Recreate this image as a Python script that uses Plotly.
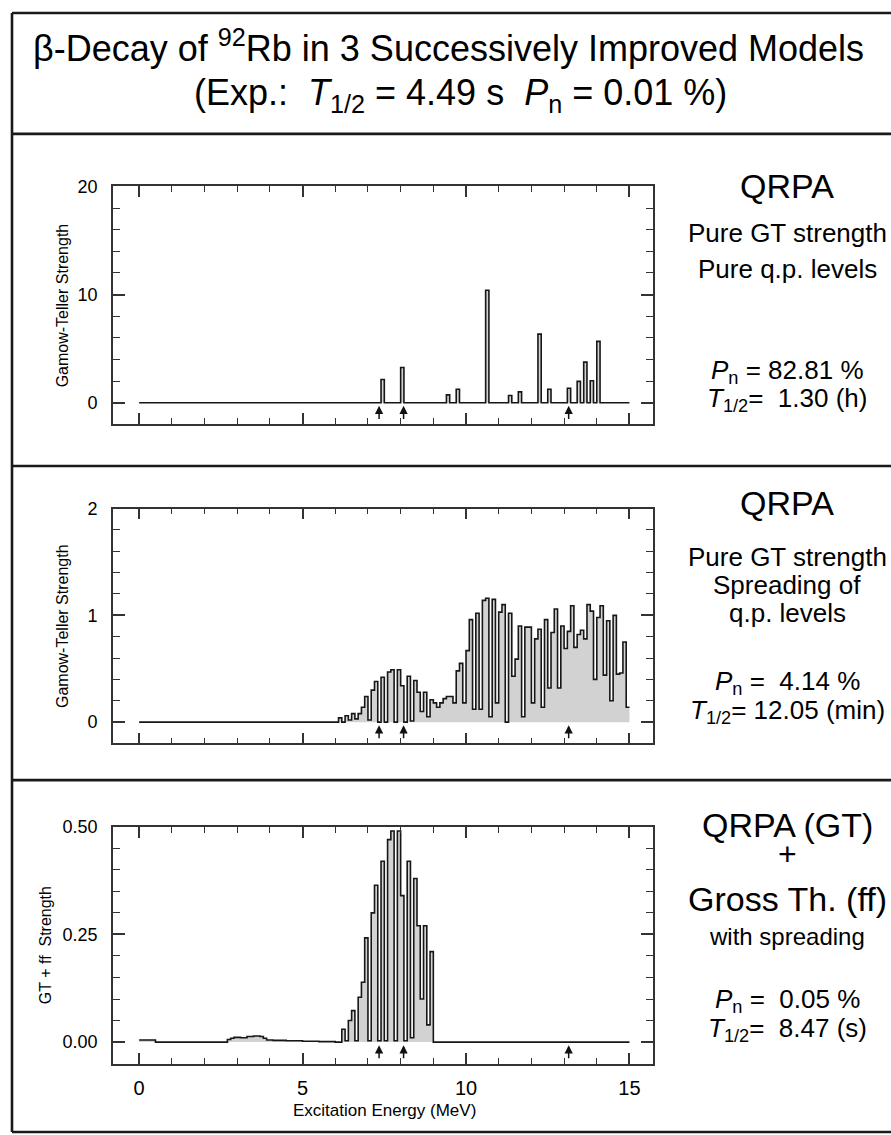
import numpy as np
import plotly.graph_objects as go

W, H = 891, 1135
FONT = "Liberation Sans, Arial, Helvetica, sans-serif"

# ---------------- data ----------------
BIN = 0.1          # MeV, histogram bin width
E_MAX = 15.0       # MeV, end of the spectra

# Panel 1: QRPA, pure GT strength, pure q.p. levels (bin left edge, strength)
p1_energy = [7.4, 8.0, 9.4, 9.7, 10.6, 11.3, 11.6, 12.2, 12.5, 13.1, 13.4, 13.6, 13.8, 14.0]
p1_strength = [2.15, 3.25, 0.72, 1.24, 10.4, 0.66, 1.0, 6.34, 1.24, 1.33, 1.97, 3.75, 2.03, 5.67]

# Panel 2: QRPA with spreading of q.p. levels, 0.1-MeV bins starting at 6.0 MeV
p2_start = 6.0
p2_strength = [
    0.00, 0.04, 0.00, 0.06, 0.02, 0.08, 0.03, 0.08, 0.14, 0.24,   # 6.0-6.9
    0.02, 0.30, 0.38, 0.00, 0.42, 0.00, 0.47, 0.49, 0.00, 0.49,   # 7.0-7.9
    0.34, 0.00, 0.43, 0.01, 0.39, 0.28, 0.10, 0.28, 0.05, 0.21,   # 8.0-8.9
    0.18, 0.14, 0.18, 0.22, 0.24, 0.24, 0.18, 0.48, 0.55, 0.18,   # 9.0-9.9
    0.67, 0.96, 0.12, 1.02, 0.12, 1.14, 1.16, 0.05, 1.15, 0.18,   # 10.0-10.9
    1.03, 1.10, 0.00, 1.02, 0.43, 0.59, 0.90, 0.05, 0.89, 0.89,   # 11.0-11.9
    0.18, 0.78, 0.87, 0.14, 0.96, 0.32, 0.84, 1.06, 0.32, 0.90,   # 12.0-12.9
    0.69, 0.85, 1.09, 0.70, 0.82, 0.86, 0.78, 1.10, 1.04, 0.40,   # 13.0-13.9
    0.98, 1.09, 0.44, 0.95, 0.20, 1.00, 0.45, 0.46, 0.75, 0.14,   # 14.0-14.9
]

# Panel 3: GT + ff with spreading
p3_ff_edges = [0.0, 0.5, 2.7, 2.8, 2.9, 3.1, 3.3, 3.5, 3.7, 3.8, 3.9, 4.1, 4.5, 5.0, 5.5, 6.0]
p3_ff_strength = [0.005, 0.0, 0.006, 0.009, 0.011, 0.010, 0.013, 0.014, 0.013, 0.009,
                  0.005, 0.004, 0.003, 0.002, 0.001]
p3_gt_start = 6.0
p3_gt_strength = [
    0.000, 0.000, 0.030, 0.003, 0.050, 0.073, 0.003, 0.104, 0.139, 0.242,  # 6.0-6.9
    0.003, 0.300, 0.364, 0.003, 0.420, 0.003, 0.470, 0.490, 0.003, 0.490,  # 7.0-7.9
    0.340, 0.003, 0.420, 0.010, 0.380, 0.270, 0.100, 0.270, 0.040, 0.210,  # 8.0-8.9
]
p3_tail_strength = 0.0   # 9.0 - 15.0 MeV

arrow_energy = [7.34, 8.09, 13.14]

y_titles = ["Gamow-Teller Strength", "Gamow-Teller Strength", "GT + ff\u00a0\u00a0Strength"]
y_ranges = [[-2, 20], [-0.2, 2], [-0.05, 0.5]]
y_dticks = [10, 1, 0.25]
y_minor = [2, 0.2, 0.05]
y_formats = ["d", "d", ".2f"]

side_texts = [
    [("QRPA", 34), ("Pure GT strength", 26), ("Pure q.p. levels", 26),
     ("<i>P</i><sub>n</sub> = 82.81 %", 26), ("<i>T</i><sub>1/2</sub>=\u00a0\u00a01.30 (h)", 26)],
    [("QRPA", 34), ("Pure GT strength", 26), ("Spreading of", 26), ("q.p. levels", 26),
     ("<i>P</i><sub>n</sub> =\u00a0\u00a04.14 %", 26), ("<i>T</i><sub>1/2</sub>= 12.05 (min)", 26)],
    [("QRPA (GT)", 34), ("+", 32), ("Gross Th. (ff)", 34), ("with spreading", 24),
     ("<i>P</i><sub>n</sub> =\u00a0\u00a00.05 %", 26), ("<i>T</i><sub>1/2</sub>=\u00a0\u00a08.47 (s)", 26)],
]
side_text_y = [
    [178, 225, 261, 365, 393],
    [497, 552, 580, 608, 678, 708],
    [822, 851, 897, 935, 999, 1029],
]

# ---------------- layout geometry (pixels) ----------------
PX_L, PX_R = 113, 653
panel_px = [(178, 418), (503, 740), (824, 1063)]


def px_x(px):
    return px / W


def px_y(py):
    return 1 - py / H


def step_xy(edges, vals):
    x = list(edges[:-1]) + [edges[-1]]
    y = list(vals) + [vals[-1]]
    return x, y


# panel 1 histogram on a 0.1-MeV grid
n1 = int(round(E_MAX / BIN))
p1_edges = np.round(np.arange(n1 + 1) * BIN, 2)
p1_vals = np.zeros(n1)
for e, s in zip(p1_energy, p1_strength):
    p1_vals[int(round(e / BIN))] = s

# panel 2
p2_edges = np.round(np.concatenate([[0.0], p2_start + BIN * np.arange(len(p2_strength) + 1)]), 2)
p2_vals = [0.0] + p2_strength

# panel 3
gt_edges = np.round(p3_gt_start + BIN * np.arange(len(p3_gt_strength) + 1), 2)
p3_edges = list(p3_ff_edges[:-1]) + list(gt_edges) + [E_MAX]
p3_vals = list(p3_ff_strength) + list(p3_gt_strength) + [p3_tail_strength]

spectra = [(p1_edges, p1_vals), (p2_edges, p2_vals), (p3_edges, p3_vals)]

fig = go.Figure()
LINE_C = "#161616"
AX_C = "#333333"
FILL_C = "#d2d2d2"

for i, (edges, vals) in enumerate(spectra, start=1):
    x, y = step_xy(edges, vals)
    fig.add_trace(go.Scatter(
        x=x, y=y, mode="lines", line=dict(shape="hv", color=LINE_C, width=1.6),
        fill="tozeroy", fillcolor=FILL_C, hoverinfo="skip", showlegend=False,
        xaxis=f"x{i}", yaxis=f"y{i}"))

layout = dict(
    width=W, height=H, margin=dict(l=0, r=0, t=0, b=0),
    paper_bgcolor="white", plot_bgcolor="white", showlegend=False,
    font=dict(family=FONT, color="black"),
)

annotations = []
shapes = []

for i in range(1, 4):
    top, bot = panel_px[i - 1]
    layout[f"xaxis{i}"] = dict(
        domain=[px_x(PX_L), px_x(PX_R)], range=[-0.8, 15.72], anchor=f"y{i}",
        showline=True, linecolor=AX_C, linewidth=1.7, mirror="ticks",
        ticks="inside", ticklen=11, tickwidth=1.5, tickcolor=AX_C,
        tick0=0, dtick=5, showgrid=False, zeroline=False,
        minor=dict(ticks="inside", ticklen=6, tickwidth=1.3, tickcolor=AX_C, dtick=1, showgrid=False),
        showticklabels=(i == 3), tickfont=dict(size=20, family=FONT, color="black"),
        ticklabelstandoff=6,
    )
    yr = y_ranges[i - 1]
    layout[f"yaxis{i}"] = dict(
        domain=[px_y(bot), px_y(top)], range=yr, anchor=f"x{i}",
        showline=True, linecolor=AX_C, linewidth=1.7, mirror="ticks",
        ticks="inside", ticklen=12, tickwidth=1.5, tickcolor=AX_C,
        tick0=0, dtick=y_dticks[i - 1], tickformat=y_formats[i - 1],
        showgrid=False, zeroline=False,
        minor=dict(ticks="inside", ticklen=7, tickwidth=1.3, tickcolor=AX_C,
                   tick0=0, dtick=y_minor[i - 1], showgrid=False),
        tickfont=dict(size=18, family=FONT, color="black"), ticklabelstandoff=10,
    )
    # y-axis title
    annotations.append(dict(
        text=y_titles[i - 1], textangle=-90, xref="paper", yref="paper",
        x=px_x(62 if i < 3 else 45), y=px_y((top + bot) / 2),
        xanchor="center", yanchor="middle", showarrow=False,
        font=dict(size=16, family=FONT, color="black")))
    # threshold arrows below the baseline
    span = yr[1] - yr[0]
    for e in arrow_energy:
        annotations.append(dict(
            x=e, y=-0.013 * span, ax=e, ay=-0.075 * span,
            xref=f"x{i}", yref=f"y{i}", axref=f"x{i}", ayref=f"y{i}",
            text="", showarrow=True, arrowhead=2, arrowsize=1.1, arrowwidth=1.5,
            arrowcolor="#111111"))
    # side texts
    for (txt, size), yc in zip(side_texts[i - 1], side_text_y[i - 1]):
        annotations.append(dict(
            text=txt, xref="paper", yref="paper", x=px_x(787), y=px_y(yc),
            xanchor="center", yanchor="middle", showarrow=False,
            font=dict(size=size, family=FONT, color="black")))

# x-axis title
annotations.append(dict(
    text="Excitation Energy (MeV)", xref="paper", yref="paper",
    x=px_x(384), y=px_y(1110), xanchor="center", yanchor="middle", showarrow=False,
    font=dict(size=17, family=FONT, color="black")))

# figure title
annotations.append(dict(
    text="β-Decay of <sup>92</sup>Rb in 3 Successively Improved Models",
    xref="paper", yref="paper", x=px_x(448), y=px_y(36), xanchor="center", yanchor="middle",
    showarrow=False, font=dict(size=36, family=FONT, color="black")))
annotations.append(dict(
    text="(Exp.:\u00a0\u00a0<i>T</i><sub>1/2</sub>\u00a0=\u00a04.49 s\u00a0\u00a0<i>P</i><sub>n</sub>\u00a0=\u00a00.01 %)",
    xref="paper", yref="paper", x=px_x(460), y=px_y(86), xanchor="center", yanchor="middle",
    showarrow=False, font=dict(size=36, family=FONT, color="black")))

# frame and panel separators
FRAME_C = "#1a1a1a"
for yy in [3, 125, 460, 777, 1132]:
    shapes.append(dict(type="line", xref="paper", yref="paper",
                       x0=px_x(12), x1=1.01, y0=px_y(yy), y1=px_y(yy),
                       line=dict(color=FRAME_C, width=2.6)))
shapes.append(dict(type="line", xref="paper", yref="paper",
                   x0=px_x(12), x1=px_x(12), y0=px_y(3), y1=px_y(1132),
                   line=dict(color=FRAME_C, width=2.6)))

layout["annotations"] = annotations
layout["shapes"] = shapes
fig.update_layout(**layout)
fig.write_html("out.html")
